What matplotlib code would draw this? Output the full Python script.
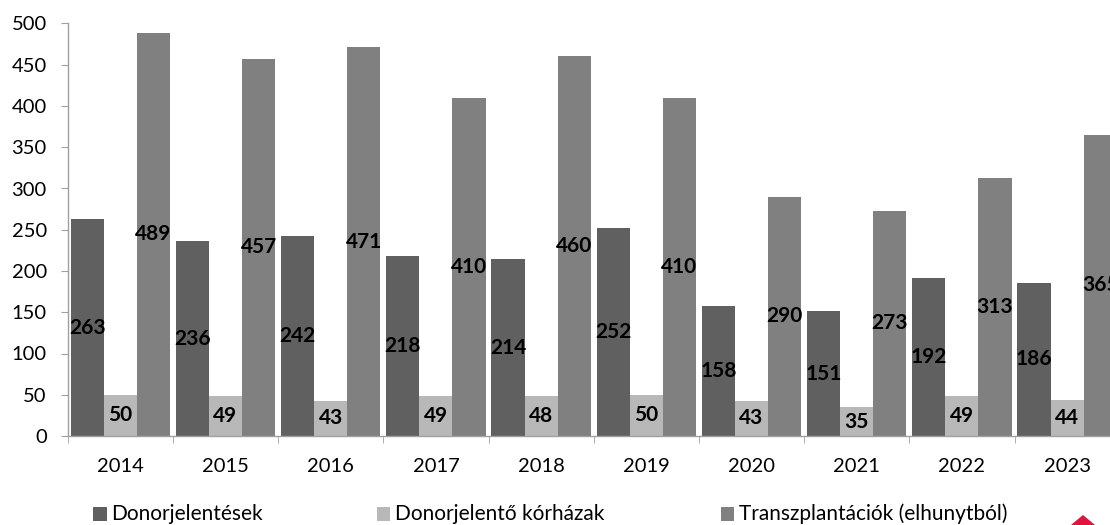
import matplotlib
matplotlib.use("Agg")
import matplotlib.pyplot as plt
from matplotlib.patches import Rectangle, Polygon
import numpy as np

plt.rcParams['font.family'] = ['Lato', 'DejaVu Sans']

years = ["2014", "2015", "2016", "2017", "2018", "2019", "2020", "2021", "2022", "2023"]
donorjelentesek = [263, 236, 242, 218, 214, 252, 158, 151, 192, 186]
korhazak = [50, 49, 43, 49, 48, 50, 43, 35, 49, 44]
transzplantaciok = [489, 457, 471, 410, 460, 410, 290, 273, 313, 365]
series_names = ["Donorjelentések", "Donorjelentő kórházak", "Transzplantációk (elhunytból)"]
colors = ["#606060", "#b8b8b8", "#808080"]
yticks = list(range(0, 501, 50))

W, H = 1110, 525
fig = plt.figure(figsize=(W / 100, H / 100), dpi=100)
left_px, right_px = 67.7, 67.7 + 1052
top_px, bottom_px = 23.5, 436
ax = fig.add_axes([left_px / W, (H - bottom_px) / H, (right_px - left_px) / W, (bottom_px - top_px) / H])

x = np.arange(len(years))
w = 0.315
for k, (vals, col) in enumerate(zip([donorjelentesek, korhazak, transzplantaciok], colors)):
    bars = ax.bar(x + (k - 1) * w, vals, width=w, color=col, edgecolor='none', zorder=2)
    ax.bar_label(bars, labels=[str(v) for v in vals], label_type='center',
                 fontsize=15, fontweight='bold', color='black')

ax.set_xlim(-0.5, len(years) - 0.5)
ax.set_ylim(0, 500)
ax.set_yticks(yticks)
ax.set_yticklabels([str(t) for t in yticks], fontsize=14.5)
ax.set_xticks(x)
ax.set_xticklabels(years, fontsize=14.5)
ax.set_xticks(np.arange(len(years) + 1) - 0.5, minor=True)
ax.tick_params(axis='x', which='major', length=0, pad=16)
ax.tick_params(axis='x', which='minor', length=5, color='#a0a0a0', direction='out')
ax.tick_params(axis='y', length=5, color='#a0a0a0', pad=10)
for s in ['top', 'right']:
    ax.spines[s].set_visible(False)
for s in ['left', 'bottom']:
    ax.spines[s].set_color('#a0a0a0')
    ax.spines[s].set_linewidth(1)

# Legend (manual placement)
leg_x = [93.3, 376.7, 720.7]
for lx, name, col in zip(leg_x, series_names, colors):
    fig.patches.append(Rectangle((lx / W, (H - 521) / H), 13.5 / W, 14 / H,
                                 transform=fig.transFigure, facecolor=col, edgecolor='none'))
    fig.text((lx + 18) / W, (H - 514) / H, name, fontsize=15, va='center', ha='left', color='black')

# red triangle logo fragment at bottom right
fig.patches.append(Polygon([[1071 / W, 0], [1083 / W, (H - 515) / H], [1095 / W, 0]],
                           closed=True, transform=fig.transFigure, facecolor='#e0143c', edgecolor='none'))

fig.savefig("out.png", dpi=100)
